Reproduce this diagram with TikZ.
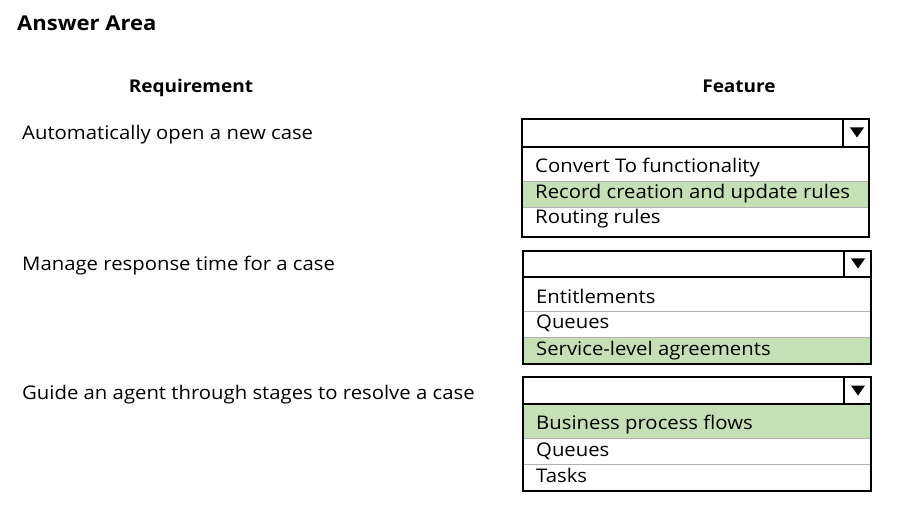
\documentclass[tikz,border=0pt]{standalone}
\usepackage{fontspec}
\setmainfont{Open Sans}[FakeStretch=1.08]
\definecolor{selgreen}{HTML}{C5E0B4}
\definecolor{sepgray}{HTML}{B0B0B0}
\tikzset{
  x=1pt, y=-1pt,
  txt/.style={anchor=base west, inner sep=0pt, font=\fontsize{18.8}{21}\selectfont},
  head/.style={anchor=base, inner sep=0pt, font=\fontsize{17.6}{20}\selectfont\bfseries},
  frame/.style={draw=black, line width=1.2pt},
  sep/.style={draw=sepgray, line width=0.7pt},
  sel/.style={fill=selgreen},
  tri/.style={fill=black},
}
\begin{document}
\begin{tikzpicture}
\useasboundingbox (0,0) rectangle (901,510);
\node[anchor=base west, inner sep=0pt, font=\fontsize{20.4}{22}\selectfont\bfseries] (title) at (17,31) {Answer Area};
\node[head] (hreq) at (191,93) {Requirement};
\node[head] (hfeat) at (739,93) {Feature};
% requirements
\node[txt] (r1) at (22,140) {Automatically open a new case};
\node[txt] (r2) at (22,271) {Manage response time for a case};
\node[txt] (r3) at (22,399) {Guide an agent through stages to resolve a case};
% box 1
\fill[sel] (522,181.5) rectangle (869,207.5);
\draw[sep] (522,181.5) -- (869,181.5);
\draw[sep] (522,207.5) -- (869,207.5);
\draw[frame] (522,119) rectangle (869,147);
\draw[frame] (843,119) -- (843,147);
\draw[frame] (522,147) rectangle (869,237);
\fill[tri] (850,127.5) -- (864,127.5) -- (857,137.5) -- cycle;
\node[txt] (a1) at (535,172.7) {Convert To functionality};
\node[txt] (a2) at (535,198.3) {Record creation and update rules};
\node[txt] (a3) at (535,223.3) {Routing rules};
% box 2
\fill[sel] (523,337) rectangle (871,364);
\draw[sep] (523,311) -- (871,311);
\draw[sep] (523,337) -- (871,337);
\draw[frame] (523,251) rectangle (871,277);
\draw[frame] (844,251) -- (844,277);
\draw[frame] (523,277) rectangle (871,364);
\fill[tri] (851,258.5) -- (865,258.5) -- (858,268.5) -- cycle;
\node[txt] (b1) at (536,303) {Entitlements};
\node[txt] (b2) at (536,328) {Queues};
\node[txt] (b3) at (536,355) {Service-level agreements};
% box 3
\fill[sel] (523,404) rectangle (871,438);
\draw[sep] (523,438) -- (871,438);
\draw[sep] (523,464) -- (871,464);
\draw[frame] (523,377) rectangle (871,404);
\draw[frame] (844,377) -- (844,404);
\draw[frame] (523,404) rectangle (871,491);
\fill[tri] (851,385.5) -- (865,385.5) -- (858,395.5) -- cycle;
\node[txt] (c1) at (536,429) {Business process flows};
\node[txt] (c2) at (536,456) {Queues};
\node[txt] (c3) at (536,482) {Tasks};
\end{tikzpicture}
\end{document}
